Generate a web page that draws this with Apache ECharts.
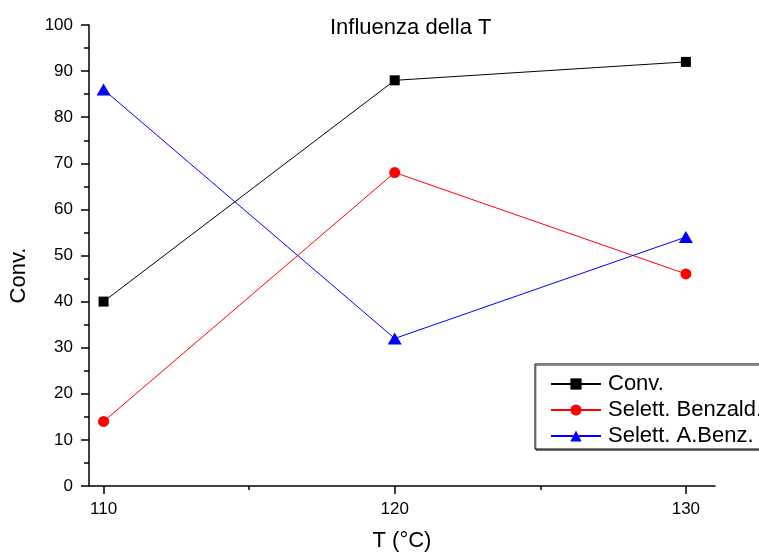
<!DOCTYPE html>
<html><head><meta charset="utf-8">
<script src="https://cdn.jsdelivr.net/npm/echarts@6/dist/echarts.min.js"></script>
<style>html,body{margin:0;padding:0;background:#fff}#c{width:759px;height:554px}</style>
</head><body><div id="c"></div>
<script>
const temps = [110, 120, 130];
const conv = [40, 88, 92];
const benzald = [14, 68, 46];
const abenz = [86, 32, 54];
const xTicks = [110, 120, 130];
const xMinorTicks = [115, 125];
const yTicks = [0,10,20,30,40,50,60,70,80,90,100];

const chart = echarts.init(document.getElementById('c'), null, {renderer:'canvas'});
const font = 'Liberation Sans';
function pts(arr){ return temps.map((t,i)=>[t, arr[i]]); }
const axisLineStyle = {color:'#000', width:1.5};
chart.setOption({
  animation:false,
  backgroundColor:'#fff',
  title:{text:'Influenza della T', left:325, top:12,
    textStyle:{fontFamily:font, fontSize:22, fontWeight:'normal', color:'#000'}},
  grid:{left:89, top:25, right:44, bottom:68, containLabel:false, outerBoundsMode:'none'},
  xAxis:[{type:'value', min:109.5, max:131,
    name:'T (°C)', nameLocation:'middle', nameGap:44,
    nameTextStyle:{fontFamily:font, fontSize:22, color:'#000'},
    axisLine:{show:true, onZero:false, lineStyle:axisLineStyle},
    axisTick:{show:true, length:8, lineStyle:axisLineStyle, customValues: xTicks},
    splitLine:{show:false},
    axisLabel:{fontFamily:font, fontSize:17, color:'#000', margin:15,
      customValues: xTicks, formatter: v => String(v)}
  },{type:'value', min:109.5, max:131, position:'bottom',
    axisLine:{show:false},
    axisTick:{show:true, length:4, lineStyle:axisLineStyle, customValues: xMinorTicks},
    splitLine:{show:false},
    axisLabel:{show:false}
  }],
  yAxis:{type:'value', min:0, max:100, interval:10,
    name:'Conv.', nameLocation:'middle', nameGap:59, nameRotate:90,
    nameTextStyle:{fontFamily:font, fontSize:22, color:'#000', padding:[0,40,0,0]},
    axisLine:{show:true, onZero:false, lineStyle:axisLineStyle},
    axisTick:{show:true, length:8, lineStyle:axisLineStyle},
    minorTick:{show:true, splitNumber:2, length:5, lineStyle:axisLineStyle},
    splitLine:{show:false},
    axisLabel:{fontFamily:font, fontSize:17, color:'#000', margin:16,
      formatter: v => yTicks.includes(v) ? String(v) : ''}
  },
  legend:{orient:'vertical', left:535, top:364,
    backgroundColor:'#fff', borderColor:'#000', borderWidth:1,
    shadowColor:'rgba(0,0,0,0.45)', shadowOffsetX:1, shadowOffsetY:1.5, shadowBlur:0,
    padding:[9,4,2,15], itemGap:4, itemWidth:50, itemHeight:14,
    textStyle:{fontFamily:font, fontSize:22, color:'#000', padding:[0,0,0,2]},
    data:['Conv.','Selett. Benzald.','Selett. A.Benz.']},
  series:[
    {name:'Conv.', type:'line', data:pts(conv), symbol:'rect', symbolSize:10,
      lineStyle:{color:'#000', width:1}, itemStyle:{color:'#000'}},
    {name:'Selett. Benzald.', type:'line', data:pts(benzald), symbol:'circle', symbolSize:11,
      lineStyle:{color:'#ff0000', width:1}, itemStyle:{color:'#ff0000'}},
    {name:'Selett. A.Benz.', type:'line', data:pts(abenz), symbol:'triangle', symbolSize:[14,12],
      lineStyle:{color:'#0000ff', width:1}, itemStyle:{color:'#0000ff'}}
  ]
});
</script></body></html>
